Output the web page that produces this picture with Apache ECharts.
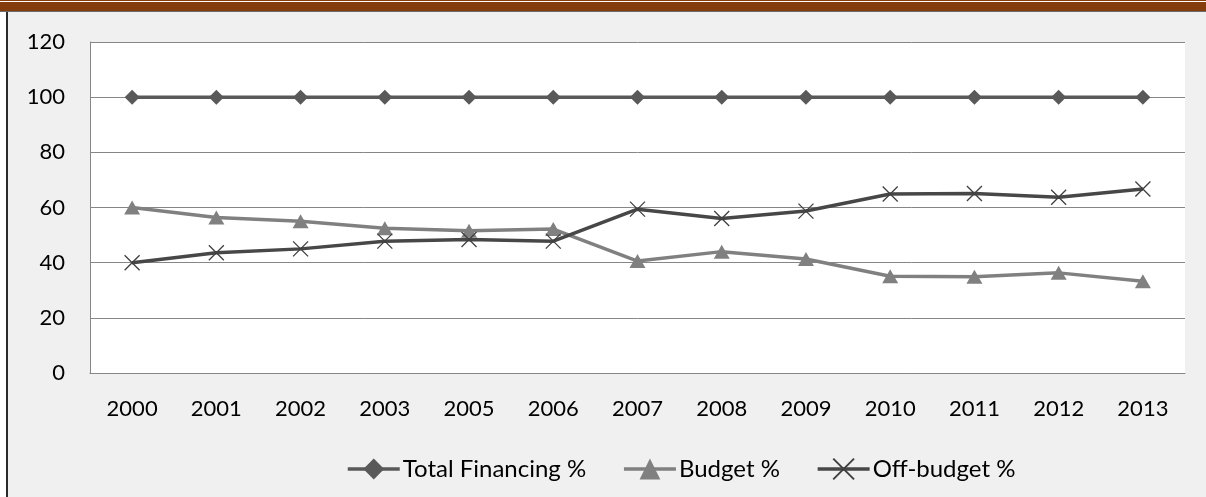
<!DOCTYPE html>
<html><head><meta charset="utf-8">
<script src="https://cdn.jsdelivr.net/npm/echarts@6/dist/echarts.min.js"></script>
<style>
html,body{margin:0;padding:0;background:#fff;width:1206px;height:497px;overflow:hidden;}
#bar{position:absolute;left:0;top:0;width:1206px;height:11px;background:#843c0c;}
#barline{position:absolute;left:0;top:1px;width:1206px;height:1px;background:#fff;}
#barbot{position:absolute;left:0;top:11px;width:1206px;height:1px;background:#6b6b6b;}
#frame{position:absolute;left:6px;top:12px;width:1200px;height:485px;background:#f0f0f0;border-left:2px solid #2a2a2a;box-sizing:border-box;}
#chart{position:absolute;left:0;top:0;width:1206px;height:497px;}
</style></head>
<body>
<div id="frame"></div>
<div id="bar"></div><div id="barline"></div><div id="barbot"></div>
<div id="chart"></div>
<script>
const years = ['2000','2001','2002','2003','2005','2006','2007','2008','2009','2010','2011','2012','2013'];
const totalFinancing = [100,100,100,100,100,100,100,100,100,100,100,100,100];
const budget = [60,56.4,55,52.5,51.6,52.2,40.6,44,41.3,35.1,34.9,36.3,33.3];
const offBudget = [40,43.6,45,47.8,48.4,47.8,59.4,56,58.7,64.9,65.1,63.7,66.7];
const yTicks = {min:0,max:120,step:20};

const font = 'Lato, "Open Sans", sans-serif';
const chart = echarts.init(document.getElementById('chart'), null, {renderer:'canvas'});
const xPath = 'path://M0,0L10,10M10,0L0,10';
chart.setOption({
  animation:false,
  backgroundColor:'transparent',
  grid:{left:90,right:21,top:42,bottom:124,show:true,backgroundColor:'#fff',borderWidth:0,containLabel:false},
  legend:{
    top:452,left:341,itemWidth:52,itemHeight:26,itemGap:36,
    lineStyle:{width:3.5},
    textStyle:{fontFamily:font,fontSize:24,color:'#000',padding:[0,0,0,-2]},
    data:['Total Financing %','Budget %','Off-budget %']
  },
  xAxis:{type:'category',data:years,boundaryGap:true,
    axisLine:{lineStyle:{color:'#868686',width:1}},axisTick:{show:false},
    axisLabel:{fontFamily:font,fontSize:22,color:'#000',margin:25}},
  yAxis:{type:'value',min:yTicks.min,max:yTicks.max,interval:yTicks.step,
    axisLine:{show:true,lineStyle:{color:'#868686',width:1}},axisTick:{show:false},
    splitLine:{lineStyle:{color:'#868686',width:1}},
    axisLabel:{fontFamily:font,fontSize:22,color:'#000',margin:25}},
  series:[
    {name:'Total Financing %',type:'line',data:totalFinancing,symbol:'diamond',symbolSize:15,
      lineStyle:{color:'#595959',width:3.5},itemStyle:{color:'#595959'}},
    {name:'Budget %',type:'line',data:budget,symbol:'triangle',symbolSize:[16,14],
      lineStyle:{color:'#808080',width:3.5},itemStyle:{color:'#808080'}},
    {name:'Off-budget %',type:'line',data:offBudget,symbol:xPath,symbolSize:15,
      lineStyle:{color:'#474747',width:3.5},itemStyle:{color:'transparent',borderColor:'#404040',borderWidth:1.3}}
  ]
});
</script>
</body></html>
